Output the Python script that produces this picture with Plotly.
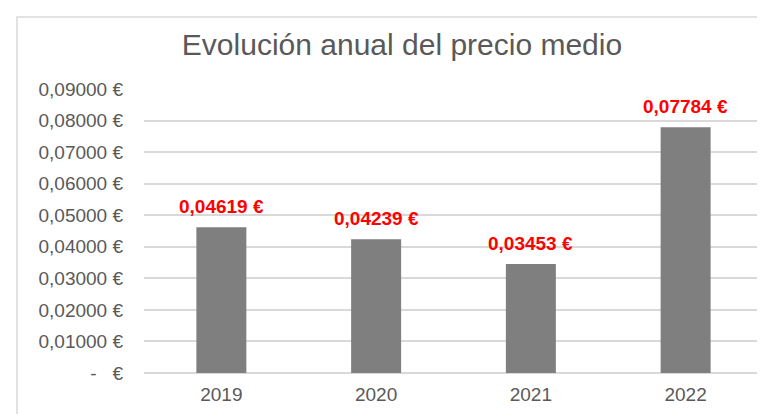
import plotly.graph_objects as go

years = ["2019", "2020", "2021", "2022"]
precio_medio = [0.04619, 0.04239, 0.03453, 0.07784]
y_tick_vals = [0, 0.01, 0.02, 0.03, 0.04, 0.05, 0.06, 0.07, 0.08, 0.09]
y_tick_text = ["-\u00a0\u00a0\u00a0€", "0,01000\u00a0€", "0,02000\u00a0€", "0,03000\u00a0€",
               "0,04000\u00a0€", "0,05000\u00a0€", "0,06000\u00a0€", "0,07000\u00a0€",
               "0,08000\u00a0€", "0,09000\u00a0€"]
title_text = "Evolución anual del precio medio"

def fmt(v):
    return f"{v:.5f}".replace(".", ",") + "\u00a0€"

# page body has an 8px default margin -> work in shifted coordinates
OFF = 8
W, H = 765 - OFF, 414 - OFF
L = 144 - OFF
R = W - (763 - OFF)
T = 89 - OFF
B = H - (373 - OFF)
grid = "#d9d9d9"
txt = "#595959"
font_family = "Liberation Sans, Arial, sans-serif"

fig = go.Figure()
fig.add_trace(go.Bar(
    x=years, y=precio_medio,
    marker=dict(color="#7f7f7f", line=dict(width=0)),
    hoverinfo="skip",
))

for i, v in enumerate(precio_medio):
    fig.add_annotation(
        x=i, y=v, xref="x", yref="y", text="<b>" + fmt(v) + "</b>", showarrow=False,
        yanchor="middle", yshift=21,
        font=dict(family=font_family, size=19, color="#ff0000"),
    )

plot_w = W - L - R
plot_h = H - T - B
fig.add_shape(
    type="rect", xref="paper", yref="paper",
    x0=(17 - OFF - L) / plot_w, x1=1.05,
    y0=-0.5, y1=((H - B) - (17 - OFF)) / plot_h,
    line=dict(color=grid, width=1.5), fillcolor="rgba(0,0,0,0)", layer="below",
)

fig.update_layout(
    width=W, height=H,
    margin=dict(l=L, r=R, t=T, b=B, pad=0),
    paper_bgcolor="white", plot_bgcolor="white",
    bargap=0.677,
    showlegend=False,
    title=dict(
        text=title_text, x=(402 - OFF) / W, xref="container", xanchor="center",
        y=1 - (44 - OFF) / H, yref="container", yanchor="middle",
        font=dict(family=font_family, size=30, color=txt),
    ),
    xaxis=dict(
        type="category", range=[-0.5, 3.5],
        showgrid=False, showline=False, zeroline=False,
        ticks="", ticklabelstandoff=8,
        tickfont=dict(family=font_family, size=19, color=txt),
    ),
    yaxis=dict(
        range=[0, 0.09], tickmode="array", tickvals=y_tick_vals, ticktext=y_tick_text,
        showgrid=True, gridcolor=grid, gridwidth=1.5,
        zeroline=True, zerolinecolor=grid, zerolinewidth=1.5,
        showline=False, ticks="", ticklabelstandoff=20,
        tickfont=dict(family=font_family, size=19, color=txt),
    ),
)

fig.write_html("out.html")
